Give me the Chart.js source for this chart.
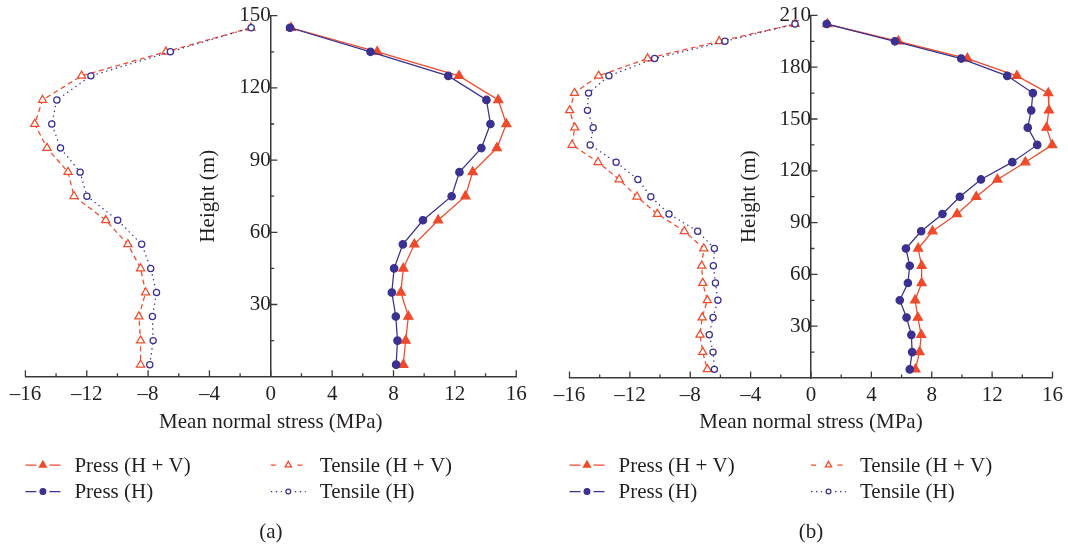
<!DOCTYPE html>
<html>
<head>
<meta charset="utf-8">
<script src="https://cdn.jsdelivr.net/npm/chart.js@4/dist/chart.umd.min.js"></script>
<style>
  html, body { margin: 0; padding: 0; background: #ffffff; }
  #wrap { position: relative; width: 1068px; height: 544px; }
  .panel { position: absolute; top: 0; width: 534px; height: 544px; }
</style>
</head>
<body>
<div id="wrap">
  <div class="panel" style="left:0"><canvas id="chartA"></canvas></div>
  <div class="panel" style="left:534px"><canvas id="chartB"></canvas></div>
</div>
<script>
// Panel (a): 150 m section, heights of the sampling levels (m)
const heightsA = [145, 135, 125, 115, 105, 95, 85, 75, 65, 55, 45, 35, 25, 15, 5];
// Mean normal stress (MPa)
const pressHV_A   = [1.32, 6.94, 12.27, 14.83, 15.36, 14.74, 13.16, 12.69, 10.91, 9.36, 8.64, 8.48, 8.97, 8.79, 8.64];
const pressH_A    = [1.25, 6.50, 11.57, 14.06, 14.32, 13.73, 12.30, 11.79, 9.92, 8.61, 8.04, 7.89, 8.15, 8.26, 8.17];
const tensileHV_A = [-1.30, -6.84, -12.34, -14.88, -15.39, -14.59, -13.22, -12.83, -10.76, -9.32, -8.49, -8.16, -8.60, -8.49, -8.49];
const tensileH_A  = [-1.28, -6.55, -11.73, -13.95, -14.28, -13.71, -12.43, -11.99, -9.98, -8.42, -7.83, -7.45, -7.72, -7.67, -7.89];

// Panel (b): 210 m section
const heightsB = [205, 195, 185, 175, 165, 155, 145, 135, 125, 115, 105, 95, 85, 75, 65, 55, 45, 35, 25, 15, 5];
const pressHV_B   = [1.09, 5.79, 10.36, 13.64, 15.72, 15.76, 15.60, 15.98, 14.20, 12.35, 10.95, 9.68, 8.05, 7.10, 7.33, 7.33, 6.90, 7.08, 7.30, 7.19, 6.92];
const pressH_B    = [1.04, 5.56, 9.95, 13.00, 14.70, 14.59, 14.36, 14.99, 13.34, 11.26, 9.86, 8.71, 7.30, 6.29, 6.54, 6.42, 5.88, 6.33, 6.65, 6.70, 6.54];
const tensileHV_B = [-1.06, -6.08, -10.83, -14.07, -15.67, -15.99, -15.65, -15.83, -14.11, -12.71, -11.53, -10.18, -8.39, -7.10, -7.24, -7.17, -6.87, -7.21, -7.35, -7.17, -6.87];
const tensileH_B  = [-1.06, -5.70, -10.36, -13.39, -14.74, -14.81, -14.43, -14.63, -12.91, -11.47, -10.61, -9.41, -7.51, -6.40, -6.47, -6.33, -6.17, -6.49, -6.74, -6.49, -6.40];

const seriesNames = ['Press (H + V)', 'Press (H)', 'Tensile (H + V)', 'Tensile (H)'];
const xTitle = 'Mean normal stress (MPa)';
const yTitle = 'Height (m)';
const xLimits = [-16, 16];

const SERIF = "'Liberation Serif', 'Times New Roman', serif";
const INK = '#231f20';
const AXIS = '#3a3a3a';
const RED = '#ef4a2b';
const BLUE = '#3a3190';
const FONT_PX = 21;

function fmtTick(v) {
  return v < 0 ? '\u2013' + Math.abs(v) : String(v);
}

function makeDatasets(h, pHV, pH, tHV, tH) {
  const pts = vals => vals.map((v, i) => ({ x: v, y: h[i] }));
  const common = { showLine: true, tension: 0, clip: false, borderWidth: 1.25, pointBorderWidth: 1.25, pointHoverRadius: 0 };
  return [
    Object.assign({}, common, { label: seriesNames[0], data: pts(pHV), borderColor: RED, backgroundColor: RED,
      pointBackgroundColor: RED, pointStyle: 'triangle', pointRadius: 5.2, order: 2 }),
    Object.assign({}, common, { label: seriesNames[1], data: pts(pH), borderColor: BLUE, backgroundColor: BLUE,
      pointBackgroundColor: BLUE, pointStyle: 'circle', pointRadius: 3.7, order: 1 }),
    Object.assign({}, common, { label: seriesNames[2], data: pts(tHV), borderColor: RED, backgroundColor: '#ffffff',
      pointBackgroundColor: '#ffffff', pointStyle: 'triangle', pointRadius: 4.7, borderDash: [5, 3.5], order: 2 }),
    Object.assign({}, common, { label: seriesNames[3], data: pts(tH), borderColor: BLUE, backgroundColor: '#ffffff',
      pointBackgroundColor: '#ffffff', pointStyle: 'circle', pointRadius: 3.1, borderDash: [1.4, 3.6], order: 1 })
  ];
}

// legend slots: dataset index -> [column, row]; sample segment length per dataset
const legendSlots = [[0, 0], [0, 1], [1, 0], [1, 1]];
const legendSeg = [11, 11, 8.5, 11];

// ticks pointing into the plot, axis titles, 2x2 legend and caption
const decor = {
  id: 'decor',
  afterDraw(chart, args, opts) {
    const { ctx, chartArea: ca } = chart;
    const xs = chart.scales.x, ys = chart.scales.y;
    const x0 = xs.getPixelForValue(0);
    ctx.save();
    ctx.strokeStyle = AXIS;
    ctx.lineWidth = 1.3;
    ctx.beginPath();
    xs.ticks.forEach(t => {
      const px = xs.getPixelForValue(t.value);
      const len = t.value % 4 === 0 ? 6.5 : 3.4;
      ctx.moveTo(px, ca.bottom);
      ctx.lineTo(px, ca.bottom - len);
    });
    ys.ticks.forEach(t => {
      if (t.value === 0) return;
      const py = ys.getPixelForValue(t.value);
      const len = t.value % 30 === 0 ? 6.5 : 3.4;
      ctx.moveTo(x0, py);
      ctx.lineTo(x0 + len, py);
    });
    ctx.stroke();

    ctx.fillStyle = INK;
    ctx.font = FONT_PX + 'px ' + SERIF;
    ctx.textAlign = 'center';
    ctx.textBaseline = 'middle';
    const cx = (ca.left + ca.right) / 2;
    ctx.fillText(xTitle, cx, opts.xTitleY);
    ctx.save();
    ctx.translate(x0 - 62, (ca.top + ca.bottom) / 2);
    ctx.rotate(-Math.PI / 2);
    ctx.fillText(yTitle, 0, 0);
    ctx.restore();

    // legend
    const colX = [ca.left, x0];
    chart.data.datasets.forEach((ds, i) => {
      const [col, row] = legendSlots[i];
      const lx = colX[col];
      const ly = opts.legendY[row];
      const seg = legendSeg[i];
      ctx.strokeStyle = ds.borderColor;
      ctx.lineWidth = ds.borderWidth;
      ctx.setLineDash(ds.borderDash || []);
      ctx.beginPath();
      ctx.moveTo(lx, ly); ctx.lineTo(lx + seg, ly);
      ctx.moveTo(lx + 35 - seg, ly); ctx.lineTo(lx + 35, ly);
      ctx.stroke();
      ctx.setLineDash([]);
      ctx.fillStyle = ds.pointBackgroundColor;
      ctx.strokeStyle = ds.borderColor;
      ctx.lineWidth = ds.pointBorderWidth;
      Chart.helpers.drawPoint(ctx, {
        pointStyle: ds.pointStyle, radius: ds.pointRadius * 0.78,
        borderWidth: ds.pointBorderWidth, rotation: 0
      }, lx + 17.5, ly);
      ctx.fillStyle = INK;
      ctx.textAlign = 'left';
      ctx.fillText(ds.label, lx + 49, ly + 1);
    });

    ctx.textAlign = 'center';
    ctx.fillText(opts.caption, cx, opts.captionY);
    ctx.restore();
  }
};

function makeChart(id, heights, series, yMax, padding, caption) {
  const tickFont = { family: SERIF, size: FONT_PX };
  return new Chart(document.getElementById(id), {
    type: 'scatter',
    data: { datasets: makeDatasets(heights, ...series) },
    options: {
      responsive: true,
      maintainAspectRatio: false,
      animation: false,
      devicePixelRatio: 1,
      events: [],
      layout: { padding },
      plugins: {
        legend: { display: false },
        tooltip: { enabled: false },
        decor: { caption, xTitleY: 422, legendY: [465, 491.5], captionY: 532.5 }
      },
      scales: {
        x: {
          type: 'linear', min: xLimits[0], max: xLimits[1],
          grid: { display: false, drawTicks: false },
          border: { display: true, color: AXIS, width: 1.5 },
          ticks: {
            stepSize: 2, autoSkip: false, maxRotation: 0, padding: 5,
            color: INK, font: tickFont,
            callback: v => (v % 4 === 0 ? fmtTick(v) : '')
          },
          afterFit: s => { s.height = 30; }
        },
        y: {
          type: 'linear', min: 0, max: yMax,
          position: { x: 0 },
          grid: { display: false, drawTicks: false },
          border: { display: true, color: AXIS, width: 1.5 },
          ticks: {
            stepSize: 15, autoSkip: false, padding: 2,
            color: INK, font: tickFont,
            callback: v => (v % 30 === 0 && v !== 0 ? String(v) : '')
          }
        }
      }
    },
    plugins: [decor]
  });
}

makeChart('chartA', heightsA, [pressHV_A, pressH_A, tensileHV_A, tensileH_A], 150,
  { left: 25.4, right: 17.8, top: 15.7, bottom: 137.3 }, '(a)');
makeChart('chartB', heightsB, [pressHV_B, pressH_B, tensileHV_B, tensileH_B], 210,
  { left: 35.5, right: 13.1, top: 15.4, bottom: 136 }, '(b)');
</script>
</body>
</html>
